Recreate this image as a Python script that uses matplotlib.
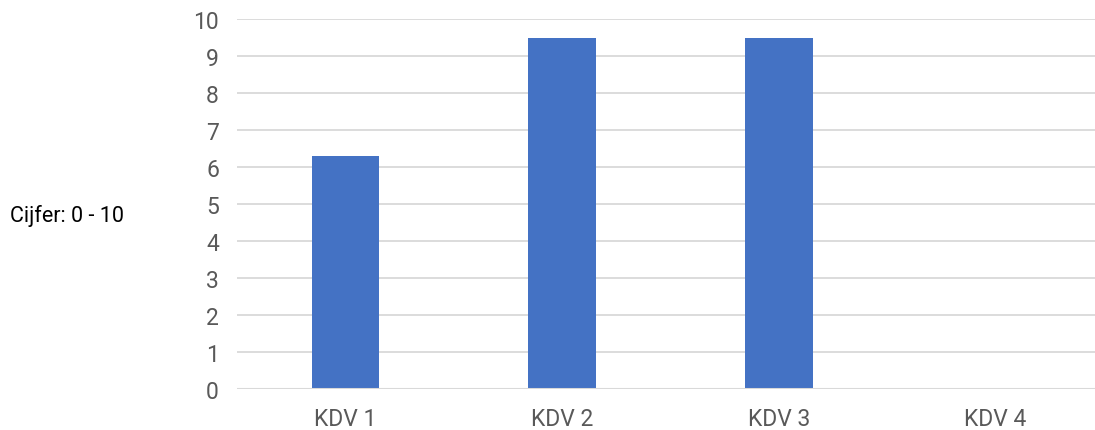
import matplotlib.pyplot as plt
import numpy as np

# data
categories = ['KDV 1', 'KDV 2', 'KDV 3', 'KDV 4']
scores = [6.3, 9.5, 9.5, 0]
yticks = list(range(0, 11))

plt.rcParams['font.family'] = ['Roboto', 'DejaVu Sans']

fig = plt.figure(figsize=(10.95, 4.31), dpi=100)
ax = fig.add_axes([237/1095, 41/431, 867/1095, 370/431])

x = np.arange(len(categories))
ax.bar(x, scores, width=0.312, color='#4472C4', zorder=3)

ax.set_xlim(-0.5, len(categories) - 0.5)
ax.set_ylim(0, 10)
ax.set_yticks(yticks)
ax.set_xticks(x)
ax.set_xticklabels(categories)

# gridlines like the spreadsheet chart
for t in yticks[1:]:
    ax.axhline(t, color='#d9d9d9', lw=1.3, zorder=1)
ax.axhline(0, color='#d9d9d9', lw=2.2, zorder=4)

for s in ax.spines.values():
    s.set_visible(False)
ax.tick_params(axis='both', length=0, labelsize=16.5, labelcolor='#595959')
ax.tick_params(axis='y', pad=13)
ax.tick_params(axis='x', pad=13)

fig.text(10/1095, 1 - 216/431, 'Cijfer: 0 - 10', fontsize=15.5, color='#000000',
         ha='left', va='center')

plt.savefig('out.png', dpi=100)
